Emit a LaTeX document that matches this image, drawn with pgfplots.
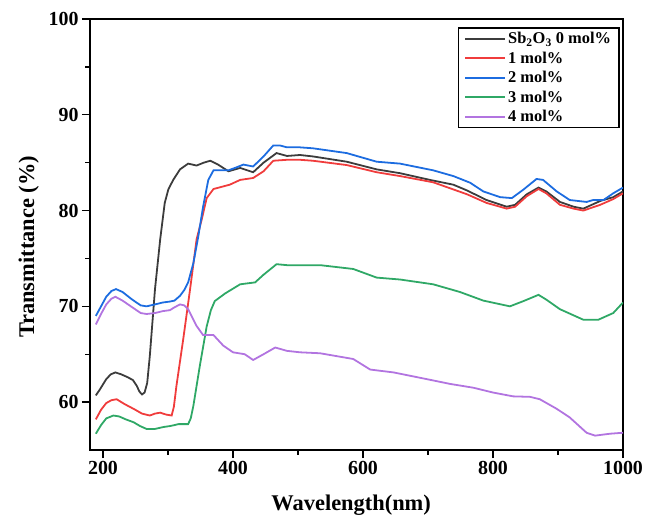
\documentclass[border=0pt]{standalone}
\usepackage{fontspec}
\setmainfont{Liberation Serif}
\usepackage{pgfplots}
\pgfplotsset{compat=1.18}

\definecolor{cBlack}{HTML}{3C3C3C}
\definecolor{cRed}{HTML}{F03C3C}
\definecolor{cBlue}{HTML}{1C6CE0}
\definecolor{cGreen}{HTML}{2FA866}
\definecolor{cPurple}{HTML}{B274E0}

\begin{document}
\begin{tikzpicture}
\useasboundingbox (-90bp,-66bp) rectangle (573bp,450bp);
\begin{axis}[
    at={(0,0)}, anchor=south west,
    width=533bp, height=431bp, scale only axis,
    xmin=180, xmax=1000,
    ymin=55, ymax=100,
    xtick={200,400,600,800,1000},
    ytick={60,70,80,90,100},
    minor x tick num=1,
    minor y tick num=1,
    xtick pos=bottom, ytick pos=left,
    tick align=outside,
    major tick length=8bp,
    minor tick length=4.5bp,
    every tick/.style={black, line width=1.4pt},
    axis line style={line width=1.6pt},
    /pgf/number format/assume math mode=true,
    /pgf/number format/1000 sep={},
    ticklabel style={font=\bfseries\fontsize{20}{20}\selectfont},
    xlabel={Wavelength(nm)},
    ylabel={Transmittance (\%)},
    label style={font=\bfseries\fontsize{22.5}{22.5}\selectfont},
    xlabel style={at={(axis description cs:0.49,-0.128)}, anchor=center},
    ylabel style={at={(axis description cs:-0.115,0.471)}, anchor=center},
    legend style={
        at={(axis description cs:0.994,0.981)}, anchor=north east,
        draw=black, line width=1.4pt,
        font=\bfseries\fontsize{16.5}{16.5}\selectfont,
        row sep=2.6bp, inner xsep=6bp, inner ysep=2.5bp,
        cells={anchor=west}
    },
    legend image code/.code={\draw[#1, line width=1.8pt] (0bp,0bp) -- (40bp,0bp);},
    every axis plot/.append style={line width=1.8pt},
]

\addplot[cBlack] coordinates {
(189,60.7)(195,61.3)(205,62.4)(212,62.9)(219,63.1)(228,62.9)(238,62.6)(246,62.3)
(252,61.7)(256,61.1)(260,60.8)(264,61.0)(268,62.0)(272,64.8)(280,71.8)(288,77.0)
(295,80.8)(300.5,82.2)(308,83.2)(318.5,84.3)(331,84.9)(344,84.7)(355,85.0)(365,85.2)
(377,84.8)(393,84.1)(411,84.45)(431,84.0)(447,85.0)(467,86.0)(483,85.7)(503,85.8)
(523,85.65)(575,85.1)(621,84.3)(657,83.9)(703,83.2)(739,82.7)(760,82.1)(790,81.1)
(821,80.4)(834,80.6)(852,81.7)(870,82.4)(882,82.0)(903,80.9)(924,80.4)(939,80.2)
(965,81.0)(985,81.4)(1000,82.0)
};
\addlegendentry{Sb\textsubscript{2}O\textsubscript{3} 0 mol\%}

\addplot[cRed] coordinates {
(189,58.2)(197,59.2)(205,59.9)(213,60.2)(221,60.3)(233,59.8)(247,59.3)(260,58.8)
(272,58.6)(280,58.8)(288,58.9)(297,58.7)(305.6,58.6)(309,59.5)(313,61.7)(323.5,66.6)
(334,71.8)(344,77.0)(352,79.1)(359.5,81.3)(370,82.25)(395,82.7)(411,83.2)(431,83.4)
(447,84.1)(462,85.2)(483,85.3)(503,85.3)(523,85.2)(575,84.75)(621,84.0)(657,83.6)
(708,82.95)(760,81.7)(790,80.8)(821,80.2)(834,80.4)(852,81.5)(870,82.25)(882,81.8)
(903,80.6)(924,80.2)(939,80.0)(965,80.6)(985,81.2)(1000,81.8)
};
\addlegendentry{1 mol\%}

\addplot[cBlue] coordinates {
(189,69.0)(197,70.0)(205,71.0)(213,71.6)(220,71.8)(230,71.5)(245,70.7)(258,70.1)
(267,70.0)(280,70.2)(292,70.4)(303,70.5)(310,70.6)(318.5,71.1)(325,71.7)(331,72.5)
(339,74.5)(346.6,77.3)(354,80.4)(362,83.2)(370,84.2)(393,84.2)(405,84.5)(416,84.8)
(431,84.6)(447,85.65)(462,86.8)(472,86.8)(483,86.6)(503,86.6)(523,86.5)(575,86.0)
(621,85.1)(657,84.9)(708,84.2)(739,83.6)(765,82.9)(785,82.0)(811,81.4)(829,81.3)
(847,82.2)(867,83.3)(877,83.2)(898,82.0)(918,81.1)(944,80.9)(954,81.1)(970,81.1)
(985,81.8)(1000,82.4)
};
\addlegendentry{2 mol\%}

\addplot[cGreen] coordinates {
(189,56.7)(197,57.6)(205,58.3)(216,58.6)(225,58.5)(235,58.2)(247,57.9)(257,57.5)
(267,57.2)(280,57.2)(293,57.4)(303,57.5)(310,57.6)(316,57.7)(331,57.7)(335,58.3)
(339,59.6)(349,63.8)(359.5,67.9)(366,69.6)(372,70.55)(388,71.35)(411,72.3)(434,72.5)
(447,73.3)(467,74.4)(483,74.3)(503,74.3)(534,74.3)(585,73.9)(621,73.0)(657,72.8)
(708,72.3)(749,71.5)(785,70.6)(826,70.0)(847,70.55)(870,71.2)(882,70.7)(903,69.7)
(939,68.6)(962,68.6)(985,69.3)(1000,70.4)
};
\addlegendentry{3 mol\%}

\addplot[cPurple] coordinates {
(189,68.1)(197,69.2)(205,70.2)(213,70.8)(219,71.0)(230,70.6)(245,69.9)(258,69.3)
(267,69.2)(280,69.3)(292,69.5)(303,69.6)(310,69.9)(318.5,70.2)(325,70.1)(331,69.7)
(344,67.95)(354,67.0)(370,67.0)(385,65.9)(400,65.2)(418,65.0)(431,64.4)(447,65.0)
(465,65.7)(483,65.35)(503,65.2)(534,65.1)(585,64.5)(611,63.4)(647,63.1)(698,62.4)
(734,61.9)(770,61.5)(800,61.0)(831,60.6)(857,60.55)(872,60.3)(898,59.3)(918,58.4)
(944,56.8)(957,56.5)(980,56.7)(1000,56.8)
};
\addlegendentry{4 mol\%}

\end{axis}
\end{tikzpicture}
\end{document}
